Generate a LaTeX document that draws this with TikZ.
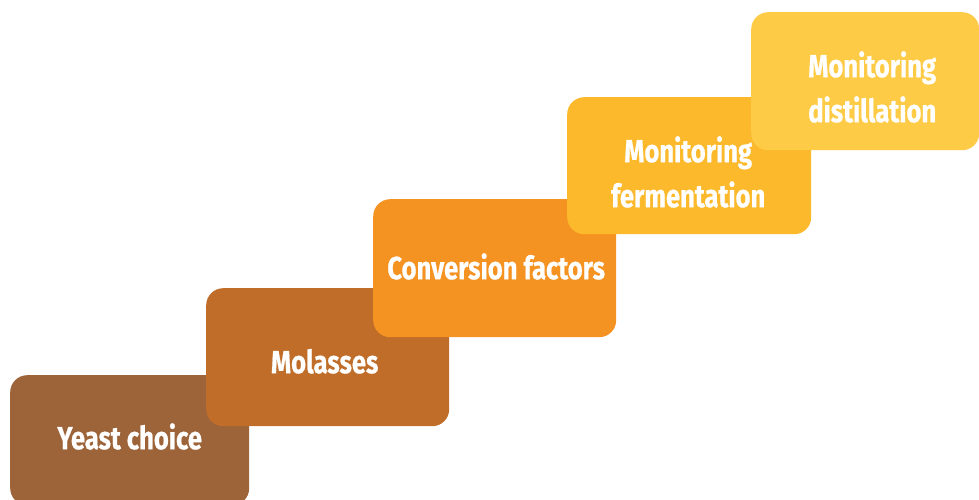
\documentclass[tikz,border=0pt]{standalone}
\usepackage{fontspec}
\newfontfamily\lblfont[FakeStretch=0.8,FakeBold=0.6]{Fira Sans}
\definecolor{cYeast}{HTML}{9D6439}
\definecolor{cMolasses}{HTML}{BF6D28}
\definecolor{cConversion}{HTML}{F59322}
\definecolor{cFerment}{HTML}{FBB92B}
\definecolor{cDistill}{HTML}{FECB47}
\newcommand{\oneline}[2]{\raisebox{#1}[0pt][0pt]{#2}}
\newcommand{\twolines}[4]{\raisebox{#1}[0pt][0pt]{\hspace*{#2}\begin{tabular}[t]{@{}c@{}}#3\\#4\end{tabular}}}
\begin{document}
\begin{tikzpicture}[x=1pt,y=-1pt,
  stepbox/.style={draw=none, rounded corners=17pt, inner sep=0pt, text=white,
    font=\lblfont\bfseries\fontsize{32}{45}\selectfont, align=center,
    anchor=north west, minimum width=243pt, minimum height=138pt}]
\clip (0,0) rectangle (979,500);
\node[stepbox, fill=cYeast, minimum width=239pt, minimum height=130pt] (yeast) at (10,375) {\oneline{-9pt}{Yeast choice}};
\node[stepbox, fill=cMolasses] (molasses) at (206,288) {\oneline{-16pt}{\hspace*{-6pt}Molasses}};
\node[stepbox, fill=cConversion] (conversion) at (373,199) {\oneline{-11pt}{\hspace*{3pt}Conversion factors}};
\node[stepbox, fill=cFerment, minimum width=244pt, minimum height=137pt] (ferment) at (567,97) {\twolines{3.5pt}{-2pt}{Monitoring}{fermentation}};
\node[stepbox, fill=cDistill, minimum width=228pt] (distill) at (751,12) {\twolines{4pt}{14pt}{Monitoring}{distillation}};
\end{tikzpicture}
\end{document}
